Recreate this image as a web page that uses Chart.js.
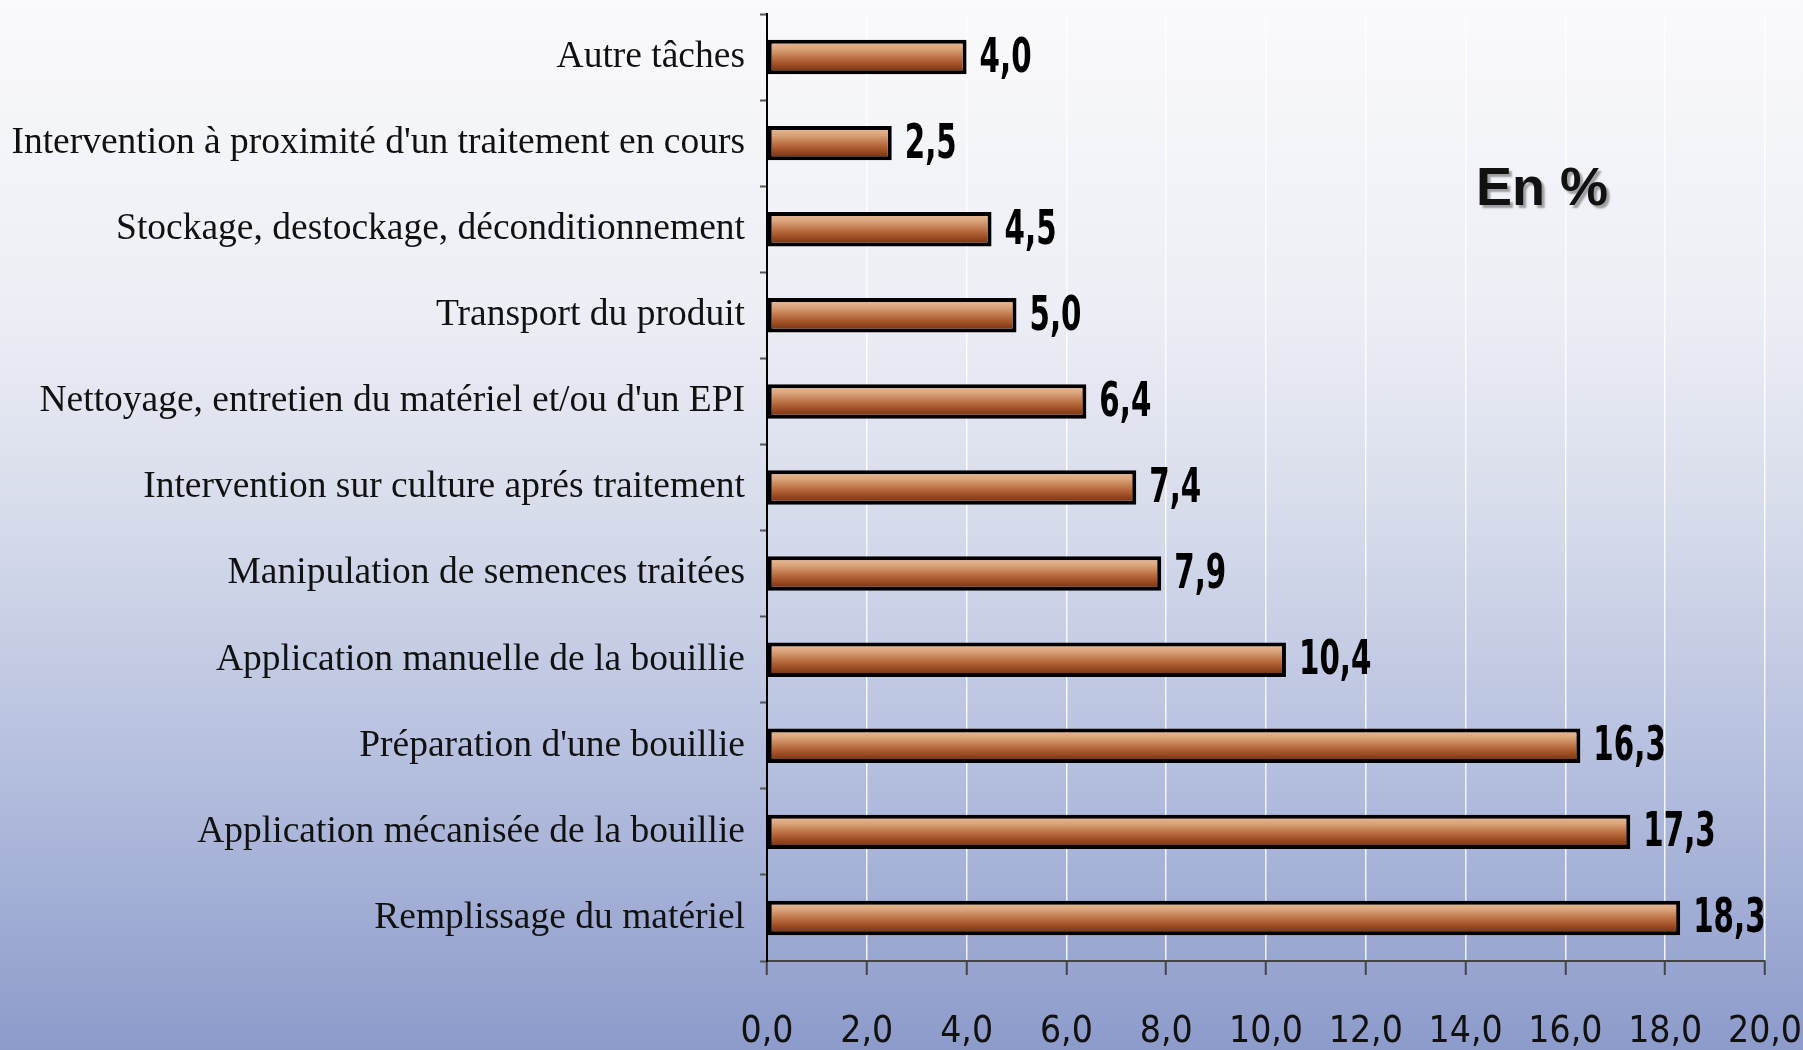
<!DOCTYPE html>
<html lang="fr">

<head>
  <meta charset="UTF-8">
  <meta name="viewport" content="width=device-width, initial-scale=1.0">
  <title>Tâches - en %</title>
  <script src="https://cdn.jsdelivr.net/npm/chart.js@4.4.0/dist/chart.umd.min.js"></script>
  <style>
    body { margin: 0; background: #c8cfe6; }
    #wrap { width: 1803px; height: 1050px; position: relative; }
  </style>
</head>

<body>
  <div id="wrap"><canvas id="taskChart"></canvas></div>
  <script>
    const taches = [
      'Autre tâches',
      "Intervention à proximité d'un traitement en cours",
      'Stockage, destockage, déconditionnement',
      'Transport du produit',
      "Nettoyage, entretien du matériel et/ou d'un EPI",
      'Intervention sur culture aprés traitement',
      'Manipulation de semences traitées',
      'Application manuelle de la bouillie',
      "Préparation d'une bouillie",
      'Application mécanisée de la bouillie',
      'Remplissage du matériel'
    ];
    const pourcents = [4.0, 2.5, 4.5, 5.0, 6.4, 7.4, 7.9, 10.4, 16.3, 17.3, 18.3];
    const xMin = 0, xMax = 20, xStep = 2;
    const unite = 'En %';

    const virgule = v => Number(v).toFixed(1).replace('.', ',');

    // fond dégradé blanc -> bleu
    const fond = {
      id: 'fond',
      beforeDraw(chart) {
        const c = chart.ctx;
        const g = c.createLinearGradient(0, 0, 0, chart.height);
        g.addColorStop(0, '#fafafc');
        g.addColorStop(0.3, '#eceef5');
        g.addColorStop(0.5, '#d6dbeb');
        g.addColorStop(0.75, '#b2bcdd');
        g.addColorStop(1, '#8d9bcb');
        c.save();
        c.fillStyle = g;
        c.fillRect(0, 0, chart.width, chart.height);
        c.restore();
      }
    };

    // valeurs au bout des barres + "En %"
    const etiquettes = {
      id: 'etiquettes',
      afterDatasetsDraw(chart) {
        const c = chart.ctx;
        const meta = chart.getDatasetMeta(0);
        c.save();
        c.font = 'bold 48px "DejaVu Sans Condensed", sans-serif';
        c.fillStyle = '#000';
        c.textBaseline = 'middle';
        c.textAlign = 'left';
        meta.data.forEach((bar, i) => {
          c.save();
          c.translate(bar.x + 13, bar.y + 2);
          c.scale(0.68, 1); // chiffres étroits comme l'original
          c.fillText(virgule(pourcents[i]), 0, 0);
          c.restore();
        });
        c.font = 'bold 54px "Liberation Sans", Arial, sans-serif';
        c.textBaseline = 'alphabetic';
        c.shadowColor = 'rgba(0,0,0,0.35)';
        c.shadowOffsetX = 3;
        c.shadowOffsetY = 3;
        c.shadowBlur = 2;
        c.fillStyle = '#111';
        c.fillText(unite, 1476, 205);
        c.restore();
      }
    };

    function degradeBarre(ctx) {
      const chart = ctx.chart;
      if (!chart.chartArea || !chart.scales.y) return '#b86a3c';
      const yc = chart.scales.y.getPixelForValue(ctx.dataIndex);
      const h = 17;
      const g = chart.ctx.createLinearGradient(0, yc - h, 0, yc + h);
      g.addColorStop(0, '#ecc09a');
      g.addColorStop(0.25, '#dba57c');
      g.addColorStop(0.55, '#b86b3e');
      g.addColorStop(0.75, '#9a4a20');
      g.addColorStop(1, '#622c12');
      return g;
    }

    new Chart(document.getElementById('taskChart'), {
      type: 'bar',
      data: {
        labels: taches,
        datasets: [{
          data: pourcents,
          backgroundColor: degradeBarre,
          borderColor: '#000',
          borderWidth: 4,
          borderSkipped: false,
          barPercentage: 0.4,
          categoryPercentage: 1
        }]
      },
      options: {
        indexAxis: 'y',
        responsive: true,
        maintainAspectRatio: false,
        animation: false,
        layout: { padding: { top: 14, right: 38, bottom: 0, left: 0 } },
        plugins: {
          legend: { display: false },
          tooltip: { enabled: false }
        },
        scales: {
          x: {
            min: xMin,
            max: xMax,
            afterFit: axis => {
              axis.height = 89;
              axis.paddingLeft = 0;
              axis.paddingRight = 0;
            },
            ticks: {
              stepSize: xStep,
              padding: 35,
              color: '#111',
              font: { family: '"DejaVu Sans Condensed", sans-serif', size: 37 },
              callback: v => virgule(v)
            },
            grid: {
              color: 'rgba(255,255,255,0.85)',
              lineWidth: 1.5,
              tickLength: 14,
              tickColor: '#444',
              tickWidth: 2
            },
            border: { color: '#444', width: 2 }
          },
          y: {
            afterFit: axis => {
              axis.width = 767;
              axis.paddingTop = 0;
              axis.paddingBottom = 0;
            },
            ticks: {
              padding: 15,
              color: '#111',
              font: { family: '"Liberation Serif", "DejaVu Serif", serif', size: 37.5 }
            },
            grid: {
              offset: true,
              drawOnChartArea: false,
              tickLength: 7,
              tickColor: '#555',
              tickWidth: 2
            },
            border: { color: '#000', width: 2 }
          }
        }
      },
      plugins: [fond, etiquettes]
    });
  </script>
</body>

</html>
